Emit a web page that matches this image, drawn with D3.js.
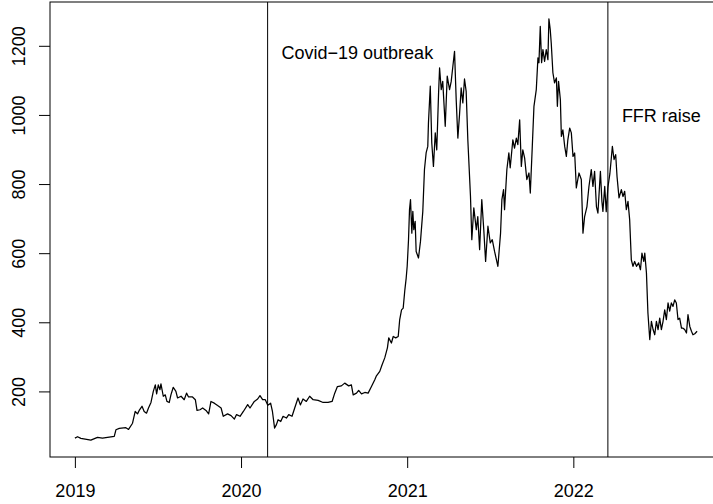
<!DOCTYPE html>
<html>
<head>
<meta charset="utf-8">
<script src="https://cdn.jsdelivr.net/npm/d3@7"></script>
<style>
  body { margin: 0; background: #fff; }
  svg { display: block; font-family: "Liberation Sans", Arial, sans-serif; }
</style>
</head>
<body>
<div id="chart"></div>
<script>
// time as decimal year
const years = [
  2019.000, 2019.016, 2019.036, 2019.096, 2019.136, 2019.166, 2019.237, 2019.247, 2019.267, 2019.307,
  2019.323, 2019.347, 2019.363, 2019.377, 2019.387, 2019.404, 2019.417, 2019.431, 2019.443, 2019.458,
  2019.472, 2019.484, 2019.492, 2019.502, 2019.512, 2019.518, 2019.532, 2019.544, 2019.554, 2019.568,
  2019.578, 2019.592, 2019.608, 2019.618, 2019.639, 2019.658, 2019.672, 2019.684, 2019.708, 2019.725,
  2019.735, 2019.753, 2019.769, 2019.789, 2019.805, 2019.819, 2019.839, 2019.859, 2019.880, 2019.893,
  2019.919, 2019.940, 2019.960, 2019.973, 2019.994, 2020.014, 2020.040, 2020.054, 2020.080, 2020.100,
  2020.114, 2020.130, 2020.146, 2020.161, 2020.178, 2020.189, 2020.202, 2020.213, 2020.223, 2020.239,
  2020.253, 2020.273, 2020.287, 2020.307, 2020.323, 2020.343, 2020.357, 2020.373, 2020.393, 2020.413,
  2020.434, 2020.464, 2020.494, 2020.524, 2020.548, 2020.564, 2020.580, 2020.604, 2020.624, 2020.648,
  2020.664, 2020.675, 2020.695, 2020.708, 2020.725, 2020.745, 2020.765, 2020.785, 2020.805, 2020.815,
  2020.835, 2020.849, 2020.865, 2020.881, 2020.889, 2020.905, 2020.916, 2020.931, 2020.946, 2020.955,
  2020.966, 2020.976, 2020.986, 2020.994, 2021.000, 2021.004, 2021.008, 2021.014, 2021.020, 2021.028,
  2021.034, 2021.040, 2021.048, 2021.054, 2021.068, 2021.080, 2021.094, 2021.104, 2021.114, 2021.124,
  2021.128, 2021.139, 2021.148, 2021.158, 2021.169, 2021.178, 2021.189, 2021.195, 2021.205, 2021.214,
  2021.229, 2021.241, 2021.255, 2021.265, 2021.275, 2021.285, 2021.295, 2021.305, 2021.315, 2021.325,
  2021.335, 2021.345, 2021.355, 2021.365, 2021.381, 2021.389, 2021.401, 2021.416, 2021.425, 2021.436,
  2021.449, 2021.461, 2021.472, 2021.486, 2021.500, 2021.512, 2021.526, 2021.546, 2021.562, 2021.570,
  2021.580, 2021.586, 2021.600, 2021.612, 2021.620, 2021.636, 2021.646, 2021.657, 2021.666, 2021.677,
  2021.687, 2021.696, 2021.707, 2021.720, 2021.733, 2021.741, 2021.753, 2021.763, 2021.777, 2021.787,
  2021.793, 2021.801, 2021.809, 2021.817, 2021.827, 2021.837, 2021.847, 2021.853, 2021.861, 2021.867,
  2021.877, 2021.887, 2021.898, 2021.904, 2021.911, 2021.922, 2021.928, 2021.937, 2021.948, 2021.958,
  2021.967, 2021.978, 2021.988, 2021.998, 2022.008, 2022.018, 2022.034, 2022.048, 2022.058, 2022.068,
  2022.082, 2022.094, 2022.108, 2022.118, 2022.128, 2022.139, 2022.148, 2022.163, 2022.172, 2022.178,
  2022.189, 2022.198, 2022.208, 2022.220, 2022.235, 2022.245, 2022.255, 2022.263, 2022.275, 2022.289,
  2022.299, 2022.309, 2022.319, 2022.329, 2022.339, 2022.349, 2022.359, 2022.369, 2022.380, 2022.393,
  2022.404, 2022.413, 2022.424, 2022.430, 2022.440, 2022.449, 2022.460, 2022.470, 2022.480, 2022.490,
  2022.500, 2022.510, 2022.520, 2022.530, 2022.540, 2022.550, 2022.560, 2022.570, 2022.580, 2022.590,
  2022.600, 2022.610, 2022.620, 2022.630, 2022.640, 2022.651, 2022.660, 2022.670, 2022.681, 2022.690,
  2022.701, 2022.711, 2022.720, 2022.731, 2022.745
];

const prices = [
  65, 69, 64, 59, 67, 65, 70, 89, 93, 95,
  90, 108, 142, 135, 145, 157, 142, 137, 152, 168,
  200, 219, 193, 219, 205, 222, 186, 190, 171, 168,
  190, 212, 200, 181, 186, 176, 195, 184, 184, 176,
  145, 147, 152, 145, 135, 171, 166, 159, 152, 128,
  135, 130, 120, 133, 128, 142, 162, 152, 171, 178,
  188, 176, 176, 160, 166, 142, 94, 104, 118, 113,
  128, 123, 133, 128, 152, 181, 161, 178, 171, 186,
  176, 174, 168, 168, 171, 195, 214, 216, 224, 216,
  219, 190, 195, 203, 193, 197, 195, 214, 234, 245,
  258, 277, 297, 326, 355, 340, 359, 355, 359, 408,
  436, 441, 494, 528, 562, 600, 639, 726, 755, 658,
  721, 668, 692, 605, 586, 634, 721, 842, 890, 909,
  977, 1083, 919, 851, 948, 899, 1064, 1136, 1073, 1097,
  967, 1112, 1073, 1097, 1141, 1184, 1044, 933, 1001, 1078,
  1035, 1104, 1068, 928, 764, 639, 731, 668, 706, 610,
  755, 668, 576, 678, 630, 639, 605, 562, 658, 755,
  784, 726, 842, 890, 847, 928, 904, 933, 914, 986,
  851, 899, 875, 813, 832, 774, 909, 1025, 1073, 1165,
  1151, 1256, 1151, 1189, 1155, 1189, 1160, 1278, 1247, 1208,
  1122, 1093, 1107, 1025, 1097, 1044, 938, 957, 909, 880,
  928, 962, 948, 880, 890, 789, 832, 813, 658, 706,
  735, 793, 842, 793, 837, 735, 716, 837, 750, 721,
  793, 720, 790, 830, 909, 871, 885, 822, 760, 784,
  764, 779, 726, 750, 697, 581, 562, 576, 562, 572,
  552, 600, 576, 600, 543, 427, 350, 403, 379, 364,
  403, 379, 412, 379, 403, 436, 408, 456, 432, 456,
  446, 465, 456, 408, 412, 383, 383, 379, 369, 422,
  388, 374, 364, 367, 374
];

const yearTicks = [2019, 2020, 2021, 2022];
const priceTicks = [200, 400, 600, 800, 1000, 1200];

const eventYears = [2020.160, 2022.208];
const eventLabels = ["Covid\u221219 outbreak", "FFR raise"];

function drawChart() {
  const width = 713, height = 504;
  const left = 50, top = 2, bottom = 457, right = 722;
  const fontSize = 18;

  const svg = d3.select("#chart")
    .append("svg")
      .attr("width", width)
      .attr("height", height);

  // R-style 4% padding around the data range
  const xExt = d3.extent(years), yExt = d3.extent(prices);
  const xPad = (xExt[1] - xExt[0]) * 0.04, yPad = (yExt[1] - yExt[0]) * 0.04;

  const x = d3.scaleLinear()
    .domain([xExt[0] - xPad, xExt[1] + xPad])
    .range([left, right]);
  const y = d3.scaleLinear()
    .domain([yExt[0] - yPad, yExt[1] + yPad])
    .range([bottom, top]);

  const pts = years.map((t, i) => [t, prices[i]]);

  svg.append("path")
    .datum(pts)
    .attr("fill", "none")
    .attr("stroke", "#000")
    .attr("stroke-width", 1.25)
    .attr("stroke-linejoin", "round")
    .attr("d", d3.line().x(d => x(d[0])).y(d => y(d[1])));

  // vertical event lines
  svg.append("g")
    .selectAll("line")
    .data(eventYears)
    .join("line")
      .attr("x1", d => x(d))
      .attr("x2", d => x(d))
      .attr("y1", top)
      .attr("y2", bottom)
      .attr("stroke", "#000")
      .attr("stroke-width", 1);

  // labels next to the event lines
  const labelPos = [[2020.70, 1180], [2022.53, 998]];
  svg.append("g")
    .selectAll("text")
    .data(eventLabels)
    .join("text")
      .attr("x", (d, i) => x(labelPos[i][0]))
      .attr("y", (d, i) => y(labelPos[i][1]))
      .attr("dy", "0.36em")
      .attr("text-anchor", "middle")
      .style("font-size", fontSize + "px")
      .style("fill", "#000")
      .text(d => d);

  // box
  svg.append("rect")
    .attr("x", left)
    .attr("y", top)
    .attr("width", right - left)
    .attr("height", bottom - top)
    .attr("fill", "none")
    .attr("stroke", "#000")
    .attr("stroke-width", 1);

  const xAxis = svg.append("g")
    .attr("transform", `translate(0,${bottom})`)
    .call(d3.axisBottom(x)
      .tickValues(yearTicks)
      .tickFormat(d3.format("d"))
      .tickSize(11)
      .tickPadding(16));
  xAxis.select(".domain").remove();
  xAxis.selectAll("line").attr("stroke", "#000");
  xAxis.selectAll("text")
    .attr("fill", "#000")
    .style("font-size", fontSize + "px")
    .style("font-family", "Liberation Sans, Arial, sans-serif");

  const yAxis = svg.append("g")
    .attr("transform", `translate(${left},0)`)
    .call(d3.axisLeft(y)
      .tickValues(priceTicks)
      .tickFormat(d3.format("d"))
      .tickSize(11));
  yAxis.select(".domain").remove();
  yAxis.selectAll("line").attr("stroke", "#000");
  yAxis.selectAll("text")
    .attr("fill", "#000")
    .attr("transform", "rotate(-90)")
    .attr("x", 0)
    .attr("y", -25)
    .attr("dy", 0)
    .attr("text-anchor", "middle")
    .style("font-size", fontSize + "px")
    .style("font-family", "Liberation Sans, Arial, sans-serif");
}

drawChart();
</script>
</body>
</html>
